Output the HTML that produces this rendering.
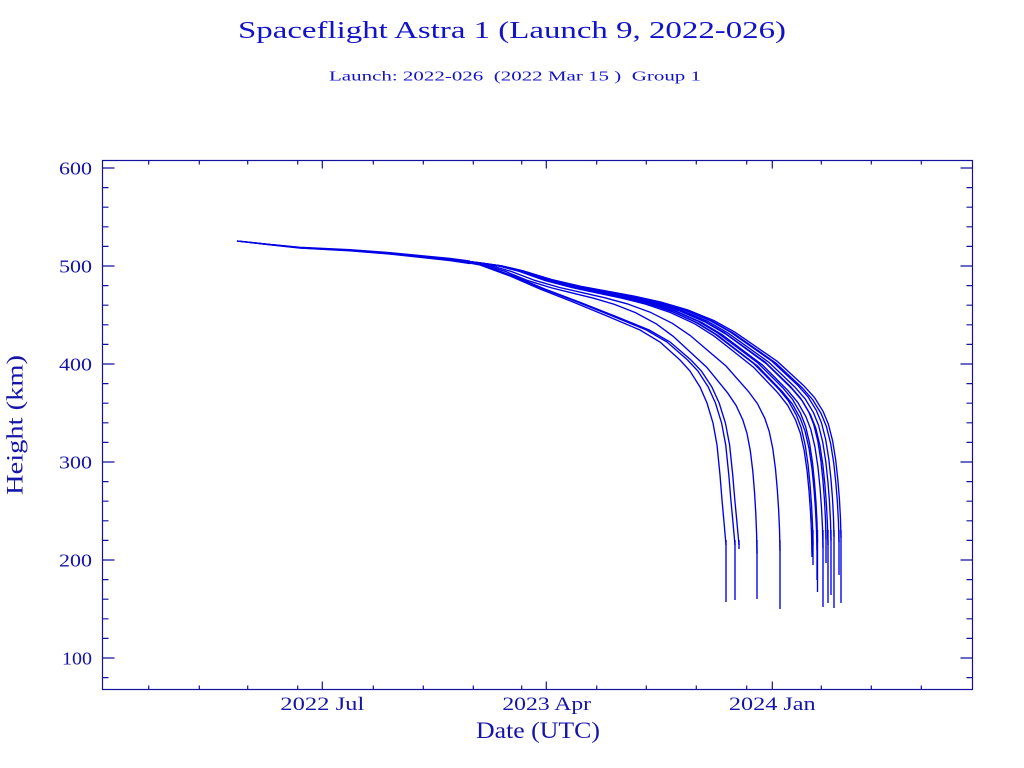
<!DOCTYPE html>
<html>
<head>
<meta charset="utf-8">
<style>
  html,body{margin:0;padding:0;background:#ffffff;}
  svg{display:block;}
  text{font-family:"Liberation Serif", serif;}
</style>
</head>
<body>
<svg width="1024" height="768" viewBox="0 0 1024 768" xmlns="http://www.w3.org/2000/svg">
  <defs>
    <path id="T" fill="none" stroke="#0000e6" stroke-width="1.35" vector-effect="non-scaling-stroke"
      d="M237,241 L270,244.5 L300,247.5 L350,250 L390,253 L420,256 L450,259 L480,263 L500,266 L520,271 L547,280 L575,287 L600,292 L625,297 L650,303 L675,311 L700,322 L720,334 L740,349 L760,364 L773,377 L785,389 L795,401 L803,415 L808,428 L812,445 L815,465 L817,485 L818.5,505 L819.5,525 L820,545"/>
    <path id="L" fill="none" stroke="#0000e6" stroke-width="1.35" vector-effect="non-scaling-stroke"
      d="M237,241 L300,247.5 L350,250 L390,253 L420,256 L450,259.5 L480,265 L510,276 L540,289 L573,302 L607,316 L640,330 L660,342 L680,360 L690,371 L700,387 L707,403 L713,423 L717,445 L720,475 L722,500 L724,522 L726,545"/>
    <clipPath id="cF"><rect x="0" y="0" width="470" height="768"/></clipPath>
    <clipPath id="c470"><rect x="470" y="0" width="554" height="768"/></clipPath>
    <clipPath id="c430"><rect x="430" y="0" width="594" height="768"/></clipPath>
  </defs>

  <!-- Titles -->
  <text x="512" y="38" font-size="24" fill="#1212c8" text-anchor="middle" textLength="548" lengthAdjust="spacingAndGlyphs">Spaceflight Astra 1 (Launch 9, 2022-026)</text>
  <text x="515" y="80.5" font-size="14" fill="#1212c8" text-anchor="middle" textLength="372" lengthAdjust="spacingAndGlyphs" style="white-space:pre">Launch: 2022-026  (2022 Mar 15 )  Group 1</text>

  <!-- Axes box -->
  <rect x="102.5" y="160.5" width="870" height="529" fill="none" stroke="#12129c" stroke-width="1.2"/>

  <!-- Y ticks left & right -->
  <path stroke="#12129c" stroke-width="1.2" fill="none" d="
    M102.5,168 h12 M102.5,266 h12 M102.5,364 h12 M102.5,462 h12 M102.5,560 h12 M102.5,658 h12
    M972.5,168 h-12 M972.5,266 h-12 M972.5,364 h-12 M972.5,462 h-12 M972.5,560 h-12 M972.5,658 h-12
    M102.5,677.6 h6 M102.5,638.4 h6 M102.5,618.8 h6 M102.5,599.2 h6 M102.5,579.6 h6
    M102.5,540.4 h6 M102.5,520.8 h6 M102.5,501.2 h6 M102.5,481.6 h6
    M102.5,442.4 h6 M102.5,422.8 h6 M102.5,403.2 h6 M102.5,383.6 h6
    M102.5,344.4 h6 M102.5,324.8 h6 M102.5,305.2 h6 M102.5,285.6 h6
    M102.5,246.4 h6 M102.5,226.8 h6 M102.5,207.2 h6 M102.5,187.6 h6
    M972.5,677.6 h-6 M972.5,638.4 h-6 M972.5,618.8 h-6 M972.5,599.2 h-6 M972.5,579.6 h-6
    M972.5,540.4 h-6 M972.5,520.8 h-6 M972.5,501.2 h-6 M972.5,481.6 h-6
    M972.5,442.4 h-6 M972.5,422.8 h-6 M972.5,403.2 h-6 M972.5,383.6 h-6
    M972.5,344.4 h-6 M972.5,324.8 h-6 M972.5,305.2 h-6 M972.5,285.6 h-6
    M972.5,246.4 h-6 M972.5,226.8 h-6 M972.5,207.2 h-6 M972.5,187.6 h-6
  "/>

  <!-- X ticks bottom & top -->
  <path stroke="#12129c" stroke-width="1.2" fill="none" d="
    M322.3,689.5 v-8 M546.3,689.5 v-8 M772.3,689.5 v-8
    M322.3,160.5 v8 M546.3,160.5 v8 M772.3,160.5 v8
    M148.7,689.5 v-4 M199.3,689.5 v-4 M247.7,689.5 v-4 M297.7,689.5 v-4
    M373.3,689.5 v-4 M423.3,689.5 v-4 M473.3,689.5 v-4 M521.7,689.5 v-4
    M596.7,689.5 v-4 M646.3,689.5 v-4 M696.3,689.5 v-4 M746.7,689.5 v-4
    M821.3,689.5 v-4 M871.3,689.5 v-4 M921.3,689.5 v-4
    M148.7,160.5 v4 M199.3,160.5 v4 M247.7,160.5 v4 M297.7,160.5 v4
    M373.3,160.5 v4 M423.3,160.5 v4 M473.3,160.5 v4 M521.7,160.5 v4
    M596.7,160.5 v4 M646.3,160.5 v4 M696.3,160.5 v4 M746.7,160.5 v4
    M821.3,160.5 v4 M871.3,160.5 v4 M921.3,160.5 v4
  "/>

  <!-- Y tick labels -->
  <g font-size="18" fill="#1414a8" text-anchor="end">
    <text x="92" y="174.5" textLength="33" lengthAdjust="spacingAndGlyphs">600</text>
    <text x="92" y="272.5" textLength="33" lengthAdjust="spacingAndGlyphs">500</text>
    <text x="92" y="370.5" textLength="33" lengthAdjust="spacingAndGlyphs">400</text>
    <text x="92" y="468.5" textLength="33" lengthAdjust="spacingAndGlyphs">300</text>
    <text x="92" y="566.5" textLength="33" lengthAdjust="spacingAndGlyphs">200</text>
    <text x="92" y="664.5" textLength="30" lengthAdjust="spacingAndGlyphs">100</text>
  </g>

  <!-- X tick labels -->
  <g font-size="19" fill="#1414a8" text-anchor="middle">
    <text x="322.3" y="710" textLength="84" lengthAdjust="spacingAndGlyphs">2022 Jul</text>
    <text x="546.7" y="710" textLength="88.7" lengthAdjust="spacingAndGlyphs">2023 Apr</text>
    <text x="772.3" y="710" textLength="86.7" lengthAdjust="spacingAndGlyphs">2024 Jan</text>
  </g>

  <!-- Axis titles -->
  <text x="538" y="738" font-size="23" fill="#1414a8" text-anchor="middle" textLength="124" lengthAdjust="spacingAndGlyphs">Date (UTC)</text>
  <text transform="translate(22.3,425) rotate(-90)" x="0" y="0" font-size="23" fill="#1414a8" text-anchor="middle" textLength="140" lengthAdjust="spacingAndGlyphs">Height (km)</text>

  <!-- Common early bundle -->
  <g clip-path="url(#cF)">
    <use href="#T" transform="matrix(1,0,0,0.97,0,7.23)"/>
    <use href="#T"/>
    <use href="#T" transform="matrix(1,0,0,1.03,0,-7.23)"/>
    <use href="#T" transform="matrix(1,0,0,1.06,0,-14.46)"/>
    <use href="#T" transform="matrix(1,0,0,1.09,0,-21.69)"/>
  </g>

  <!-- Early-decaying curves -->
  <g clip-path="url(#c430)">
    <use href="#L"/>
    <use href="#L" transform="matrix(1.030405,0,0,1,-13.074,0)"/>
    <use href="#L" transform="matrix(1.043919,0,0,1,-18.885,0)"/>
    <use href="#T" transform="matrix(0.838462,0,0,1.03,69.46,-7.71)"/>
    <use href="#T" transform="matrix(0.897436,0,0,1.02,44.10,-5.14)"/>
  </g>

  <!-- Main bundle tails -->
  <g clip-path="url(#c470)">
    <use href="#T" transform="matrix(0.977143,0,0,1.03,10.743,-7.851)"/>
    <use href="#T" transform="matrix(0.98,0,0,1,9.4,0)"/>
    <use href="#T" transform="matrix(0.991429,0,0,1.02,4.029,-5.234)"/>
    <use href="#T" transform="matrix(0.992857,0,0,0.99,3.357,2.617)"/>
    <use href="#T" transform="matrix(1.008571,0,0,1.01,-4.029,-2.617)"/>
    <use href="#T" transform="matrix(1.017143,0,0,0.98,-8.057,5.234)"/>
    <use href="#T" transform="matrix(1.022857,0,0,1,-10.743,0)"/>
    <use href="#T" transform="matrix(1.031429,0,0,0.985,-14.771,3.9255)"/>
    <use href="#T" transform="matrix(1.04,0,0,0.97,-18.8,7.851)"/>
    <use href="#T" transform="matrix(1.054286,0,0,0.99,-25.514,2.617)"/>
    <use href="#T" transform="matrix(1.06,0,0,0.975,-28.2,6.5425)"/>
  </g>

  <!-- Final vertical drops -->
  <path stroke="#0000e6" stroke-width="1.35" fill="none" d="
    M726,540 V602 M735,540 V600 M739,540 V549 M757,540 V599 M780,540 V609
    M812,530 V557 M813,530 V565 M817,530 V580 M817.5,530 V592 M823,530 V607
    M826,530 V563 M828,530 V603 M831,530 V595 M834,530 V608 M839,530 V575 M841,530 V603
  "/>
</svg>
</body>
</html>
